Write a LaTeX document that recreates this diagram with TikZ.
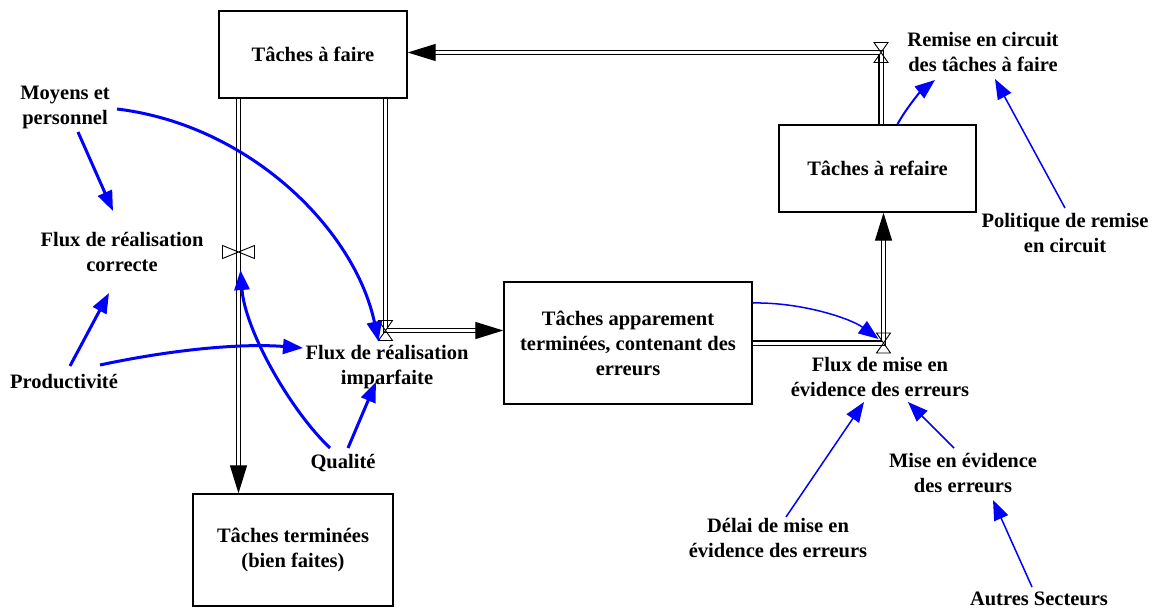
\documentclass[tikz,border=0pt]{standalone}
\usepackage{fontspec}
\setmainfont{Liberation Serif}
\usetikzlibrary{arrows.meta,calc}

\begin{document}
\begin{tikzpicture}[x=1pt,y=-1pt,
  font=\fontsize{20.5}{25}\selectfont\bfseries,
  stock/.style={draw, line width=1.4pt, inner sep=0pt, align=center},
  lbl/.style={inner sep=0pt, align=center},
  pipe/.style={draw=black, line width=1.3pt, double=white, double distance=3pt,
    line join=miter, -{Triangle[length=28pt,width=17pt,fill=black]}},
  valve/.style={draw=black, line width=0.9pt},
  link/.style={draw={rgb,255:red,0;green,0;blue,255}, line width=3pt,
    -{Triangle[length=20pt,width=15pt]}},
  thinlink/.style={link, line width=1.5pt},
]
\useasboundingbox (0,0) rectangle (1171,608);

% stocks
\node[stock, minimum width=188pt, minimum height=87pt] (todo) at (313,54.5) {Tâches à faire};
\node[stock, minimum width=197pt, minimum height=87pt] (refaire) at (877.5,168.5) {Tâches à refaire};
\node[stock, minimum width=248pt, minimum height=122pt] (apparent) at (628,343)
  {Tâches apparement\\terminées, contenant des\\erreurs};
\node[stock, minimum width=200pt, minimum height=112pt] (done) at (293,550)
  {Tâches terminées\\(bien faites)};

% valve positions
\coordinate (v1) at (238.5,252);
\coordinate (v2) at (385.5,330.5);
\coordinate (v3) at (883.5,343);
\coordinate (v4) at (881,52.5);

% flows
\draw[pipe] (todo.south -| v1) -- (done.north -| v1);
\draw[pipe] (todo.south -| v2) -- (v2) -- (v2 -| apparent.west);
\draw[pipe] (apparent.east |- v3) -- (v3) -- (v3 |- refaire.south);
\draw[pipe] (refaire.north -| v4) -- (v4) -- (v4 -| todo.east);

% valves
\draw[valve] (v1) -- ++(-16,-6.5) -- ++(0,13) -- cycle
             (v1) -- ++(16,-6.5) -- ++(0,13) -- cycle;
\foreach \v in {v2,v3,v4}
  \draw[valve] (\v) -- ++(-7,-10) -- ++(14,0) -- cycle
               (\v) -- ++(-7,10) -- ++(14,0) -- cycle;

% variables
\node[lbl] (moyens) at (65,107) {Moyens et\\personnel};
\node[lbl] (correcte) at (122,252) {Flux de réalisation\\correcte};
\node[lbl] (prod) at (64,381) {Productivité};
\node[lbl] (imparf) at (387,367) {Flux de réalisation\\imparfaite};
\node[lbl] (qual) at (343,463) {Qualité};
\node[lbl] (remise) at (983,52) {Remise en circuit\\des tâches à faire};
\node[lbl] (politique) at (1065,233) {Politique de remise\\en circuit};
\node[lbl] (mise) at (880,377) {Flux de mise en\\évidence des erreurs};
\node[lbl] (misevid) at (963,473) {Mise en évidence\\des erreurs};
\node[lbl] (delai) at (778,538) {Délai de mise en\\évidence des erreurs};
\node[lbl] (autres) at (1039,599) {Autres Secteurs};

% causal links
\draw[link] ([shift={(13,25)}]moyens.center) -- ([shift={(-9,-41)}]correcte.center);
\draw[link] ([shift={(52,2)}]moyens.center) .. controls (250,125) and (355,230) .. ([shift={(-7,11)}]v2);
\draw[link] ([shift={(6,-15)}]prod.center) -- ([shift={(-13,41)}]correcte.center);
\draw[link] ([shift={(36,-16)}]prod.center) .. controls (170,350) and (240,343) .. ([shift={(-84,-19)}]imparf.center);
\draw[link] ([shift={(-13,-15)}]qual.center) .. controls (290,410) and (245,330) .. ([shift={(2,18)}]v1);
\draw[link] ([shift={(5,-15)}]qual.center) -- ([shift={(-11,15)}]imparf.center);
\draw[thinlink] ([shift={(0,-40)}]apparent.east) .. controls (800,302) and (850,318) .. ([shift={(-5,-4)}]v3);
\draw[thinlink, line width=2pt] ([shift={(20,0)}]refaire.north) .. controls (905,110) and (920,92) .. ([shift={(-48,28)}]remise.center);
\draw[thinlink] ([shift={(0,-25)}]politique.center) -- ([shift={(12,27)}]remise.center);
\draw[thinlink] ([shift={(8,-21)}]delai.center) -- ([shift={(-16,25)}]mise.center);
\draw[thinlink] ([shift={(-9,-25)}]misevid.center) -- ([shift={(28,25)}]mise.center);
\draw[thinlink] ([shift={(-7,-12)}]autres.center) -- ([shift={(30,27)}]misevid.center);
\end{tikzpicture}
\end{document}
